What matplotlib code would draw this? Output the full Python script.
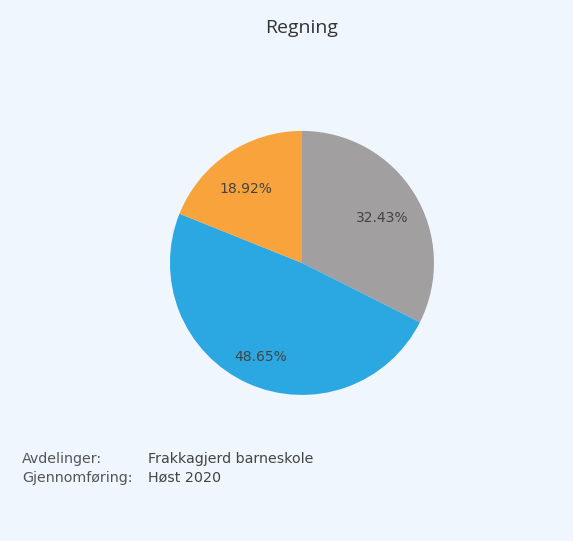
import matplotlib
matplotlib.use("Agg")
import matplotlib.pyplot as plt
import matplotlib.transforms as mtransforms

title = "Regning"
categories = ["Grå", "Blå", "Oransje"]
values = [32.43, 48.65, 18.92]
colors = ["#a19f9f", "#2ba7e2", "#f9a33c"]
info_labels = ["Avdelinger:", "Gjennomføring:"]
info_values = ["Frakkagjerd barneskole", "Høst 2020"]

fig = plt.figure(figsize=(5.73, 5.41), dpi=100)
fig.patch.set_facecolor("#eff6fd")

ax = fig.add_axes([0.527 - 0.2304, 0.514 - 0.244, 0.4608, 0.488])
ax.set_facecolor("none")
wedges, texts, autotexts = ax.pie(
    values, colors=colors, startangle=90, counterclock=False,
    autopct=lambda p: f"{p:.2f}%", pctdistance=0.73,
    wedgeprops=dict(linewidth=0),
    textprops=dict(color="#444444", fontsize=10),
)
offset = mtransforms.ScaledTranslation(-2 / 100, -6 / 100, fig.dpi_scale_trans)
for t in autotexts:
    t.set_transform(ax.transData + offset)
ax.set_xlim(-1, 1)
ax.set_ylim(-1, 1)
ax.set_aspect("equal")
ax.axis("off")

fig.text(302 / 573, 1 - 28 / 541, title, ha="center", va="center",
         fontsize=14, color="#333333", family="Open Sans")

for i, (lab, val) in enumerate(zip(info_labels, info_values)):
    y = 1 - (459 + i * 19) / 541
    fig.text(22 / 573, y, lab, ha="left", va="center", fontsize=10.3, color="#555555")
    fig.text(148 / 573, y, val, ha="left", va="center", fontsize=10.3, color="#444444")

fig.savefig("out.png", dpi=100, facecolor=fig.get_facecolor())
